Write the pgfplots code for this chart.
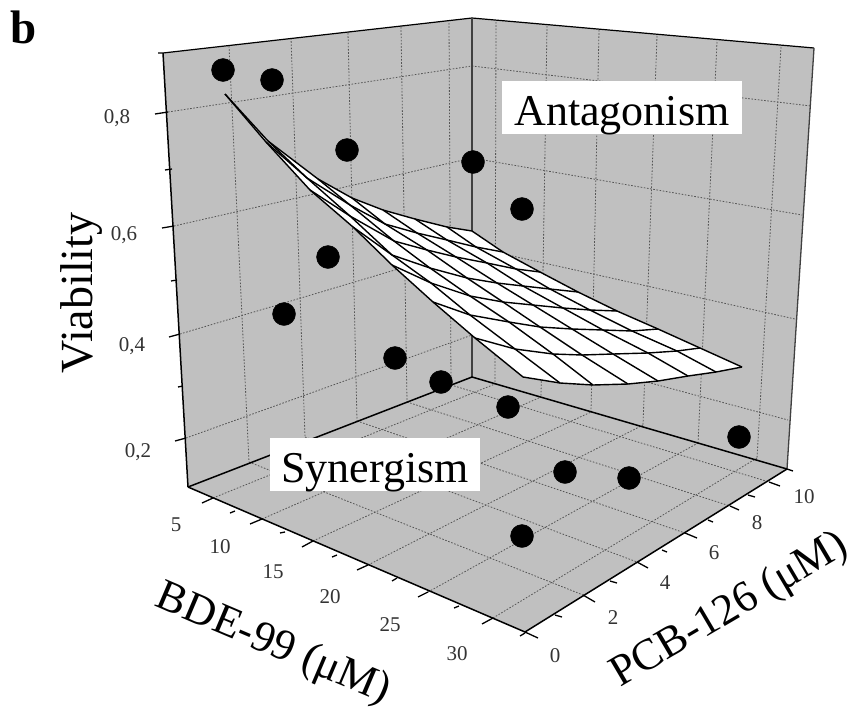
\documentclass[border=0pt]{standalone}
\usepackage{fontspec}
\setmainfont{Liberation Serif}
\usepackage{pgfplots}
\pgfplotsset{compat=1.18}
\definecolor{wall}{HTML}{C0C0C0}
\definecolor{gridc}{HTML}{555555}
\tikzset{
  gl/.style={gridc,line width=0.8pt,dash pattern=on 1.6pt off 1.6pt},
  fr/.style={black,line width=1.5pt},
  tk/.style={black,line width=1.3pt},
  ms/.style={black,line width=1.4pt,line join=round},
  tl/.style={font=\fontsize{21}{21}\selectfont,text=black!80},
  ttl/.style={font=\fontsize{44}{44}\selectfont}}
\begin{document}
\begin{tikzpicture}[x=1pt,y=1pt]
\useasboundingbox (0,0) rectangle (856,715);
\begin{axis}[at={(0,0)},anchor=south west,width=856pt,height=715pt,scale only axis,
  xmin=0,xmax=856,ymin=0,ymax=715,y dir=reverse,hide axis,clip=false]
% walls and floor
\addplot[fill=wall,draw=none] coordinates {(163,53)(472,18)(472,377)(188,487)} --cycle;
\addplot[fill=wall,draw=none] coordinates {(472,18)(814,48)(787,469)(472,377)} --cycle;
\addplot[fill=wall,draw=none] coordinates {(188,487)(525,632)(787,469)(472,377)} --cycle;
% wall grid: Viability levels
\addplot[gl] coordinates {(168,112)(472,66)(811,106)};
\addplot[gl] coordinates {(174,226)(472,158)(802,215)};
\addplot[gl] coordinates {(180,334)(472,247)(795,319)};
\addplot[gl] coordinates {(186,438)(472,335)(788,420)};
% left wall verticals
\addplot[gl] coordinates {(229,46)(249,462)};
\addplot[gl] coordinates {(291,38)(305,437)};
\addplot[gl] coordinates {(348,33)(357,421)};
\addplot[gl] coordinates {(401,27)(407,402)};
\addplot[gl] coordinates {(449,23)(451,385)};
% right wall verticals
\addplot[gl] coordinates {(496,22)(495,384)};
\addplot[gl] coordinates {(547,26)(541,397)};
\addplot[gl] coordinates {(599,30)(591,412)};
\addplot[gl] coordinates {(657,36)(643,425)};
\addplot[gl] coordinates {(717,42)(698,443)};
\addplot[gl] coordinates {(781,47)(757,458)};
% floor grid
\addplot[gl] coordinates {(249,462)(583,595)};
\addplot[gl] coordinates {(305,437)(637,562)};
\addplot[gl] coordinates {(357,421)(685,533)};
\addplot[gl] coordinates {(407,402)(730,506)};
\addplot[gl] coordinates {(451,385)(769,482)};
\addplot[gl] coordinates {(213,498)(495,384)};
\addplot[gl] coordinates {(262,519)(541,397)};
\addplot[gl] coordinates {(313,541)(591,412)};
\addplot[gl] coordinates {(368,565)(643,425)};
\addplot[gl] coordinates {(428,592)(698,443)};
\addplot[gl] coordinates {(493,618)(757,458)};
% frame
\addplot[black,line width=1.2pt] coordinates {(158,53)(163,53)(472,18)(814,48)};
\addplot[black!75,line width=1.3pt] coordinates {(814,48)(787,469)};
\addplot[fr] coordinates {(163,53)(188,487)};
\addplot[black!75,line width=1.5pt] coordinates {(472,18)(472,377)};
\addplot[fr] coordinates {(188,487)(472,377)(787,469)};
\addplot[fr] coordinates {(188,487)(525,632)(787,469)};
% Viability ticks
\addplot[tk] coordinates {(155,114)(168,112)};
\addplot[tk] coordinates {(165,170)(172,169)};
\addplot[tk] coordinates {(162,228)(174,226)};
\addplot[tk] coordinates {(171,281)(177,280)};
\addplot[tk] coordinates {(169,337)(180,334)};
\addplot[tk] coordinates {(178,387)(183,386)};
\addplot[tk] coordinates {(175,441)(186,438)};
% BDE ticks
\addplot[tk] coordinates {(202,503)(213,498)};
\addplot[tk] coordinates {(230,513)(235,511)};
\addplot[tk] coordinates {(250,524)(262,519)};
\addplot[tk] coordinates {(280,533)(285,532)};
\addplot[tk] coordinates {(302,547)(313,541)};
\addplot[tk] coordinates {(332,557)(337,555)};
\addplot[tk] coordinates {(357,570)(368,565)};
\addplot[tk] coordinates {(392,581)(397,578)};
\addplot[tk] coordinates {(418,597)(428,592)};
\addplot[tk] coordinates {(454,608)(459,606)};
\addplot[tk] coordinates {(482,624)(493,618)};
\addplot[tk] coordinates {(520,636)(525,633)};
% PCB ticks
\addplot[tk] coordinates {(525,632)(538,638)};
\addplot[tk] coordinates {(555,615)(562,617)};
\addplot[tk] coordinates {(583,595)(595,602)};
\addplot[tk] coordinates {(610,581)(617,583)};
\addplot[tk] coordinates {(637,562)(648,568)};
\addplot[tk] coordinates {(662,550)(667,552)};
\addplot[tk] coordinates {(685,533)(697,538)};
\addplot[tk] coordinates {(708,520)(713,522)};
\addplot[tk] coordinates {(730,506)(739,510)};
\addplot[tk] coordinates {(748,495)(755,497)};
\addplot[tk] coordinates {(769,482)(780,486)};
\addplot[tk] coordinates {(787,469)(793,471)};
% surface
\addplot[fill=white,draw=none] coordinates {(225,94)(268,141)(318,179)(352,198)(383,210)(415,219)(447,227)(472,231)(503,252)(540,272)(578,292)(617,311)(658,329)(700,348)(742,367)(716,372)(688,376)(658,381)(628,384)(593,385)(560,383)(523,377)(475,338)(433,302)(392,265)(353,227)(310,190)(266,142)} --cycle;
% BDE-wise mesh lines
\addplot[ms] coordinates {(225,94)(266,142)(310,190)(353,227)(392,265)(433,302)(475,338)(523,377)};
\addplot[ms] coordinates {(268,141)(307,178)(350,216)(392,255)(431,283)(470,315)(515,349)(560,383)};
\addplot[ms] coordinates {(318,179)(350,205)(394,241)(430,268)(470,296)(509,322)(553,354)(593,385)};
\addplot[ms] coordinates {(352,198)(385,224)(427,250)(467,278)(503,302)(540,327)(582,355)(628,384)};
\addplot[ms] coordinates {(383,210)(417,233)(456,257)(497,283)(533,305)(572,329)(613,354)(658,381)};
\addplot[ms] coordinates {(415,219)(447,240)(487,263)(523,286)(563,308)(603,330)(648,353)(688,376)};
\addplot[ms] coordinates {(447,227)(476,247)(516,269)(550,289)(590,310)(632,331)(677,351)(716,372)};
\addplot[ms] coordinates {(472,231)(503,252)(540,272)(578,292)(617,311)(658,329)(700,348)(742,367)};
% PCB-wise mesh lines
\addplot[ms] coordinates {(225,94)(268,141)(318,179)(352,198)(383,210)(415,219)(447,227)(472,231)};
\addplot[ms] coordinates {(266,142)(307,178)(350,205)(385,224)(417,233)(447,240)(476,247)(503,252)};
\addplot[ms] coordinates {(310,190)(350,216)(394,241)(427,250)(456,257)(487,263)(516,269)(540,272)};
\addplot[ms] coordinates {(353,227)(392,255)(430,268)(467,278)(497,283)(523,286)(550,289)(578,292)};
\addplot[ms] coordinates {(392,265)(431,283)(470,296)(503,302)(533,305)(563,308)(590,310)(617,311)};
\addplot[ms] coordinates {(433,302)(470,315)(509,322)(540,327)(572,329)(603,330)(632,331)(658,329)};
\addplot[ms] coordinates {(475,338)(515,349)(553,354)(582,355)(613,354)(648,353)(677,351)(700,348)};
\addplot[ms] coordinates {(523,377)(560,383)(593,385)(628,384)(658,381)(688,376)(716,372)(742,367)};
% text boxes
\node[fill=white,inner sep=0pt,minimum width=240pt,minimum height=53pt] at (axis cs:622,107.5) {};
\node[ttl,anchor=base] at (axis cs:622,125.5) {Antagonism};
\node[fill=white,inner sep=0pt,minimum width=210pt,minimum height=53pt] at (axis cs:375,464.5) {};
\node[ttl,anchor=base] at (axis cs:375,482) {Synergism};
% data points
\addplot[only marks,mark=*,mark size=11.5pt,mark options={fill=black,draw=black}] coordinates {
(223,70)(272,80)(347,150)(473,162)(522,209)(328,257)(284,314)(395,358)(441,382)(508,407)(565,472)(629,478)(739,437)(522,536)};
% tick labels
\node[tl] at (axis cs:117,118) {0,8};
\node[tl] at (axis cs:124,235) {0,6};
\node[tl] at (axis cs:132,346) {0,4};
\node[tl] at (axis cs:138,452) {0,2};
\node[tl] at (axis cs:176,525) {5};
\node[tl] at (axis cs:220,547) {10};
\node[tl] at (axis cs:273,572) {15};
\node[tl] at (axis cs:330,597) {20};
\node[tl] at (axis cs:390,625) {25};
\node[tl] at (axis cs:457,654) {30};
\node[tl] at (axis cs:555,656) {0};
\node[tl] at (axis cs:613,618) {2};
\node[tl] at (axis cs:665,583) {4};
\node[tl] at (axis cs:714,553) {6};
\node[tl] at (axis cs:757,523) {8};
\node[tl] at (axis cs:804,497) {10};
% titles
\node[font=\fontsize{46}{46}\selectfont,rotate=90] at (axis cs:82,293) {Viability};
\node[ttl,rotate=-23] at (axis cs:273,645) {BDE-99 (μM)};
\node[ttl,rotate=30.5] at (axis cs:730,611) {PCB-126 (μM)};
\node[font=\fontsize{47}{47}\selectfont\bfseries] at (axis cs:24,27) {b};
\end{axis}
\end{tikzpicture}
\end{document}
